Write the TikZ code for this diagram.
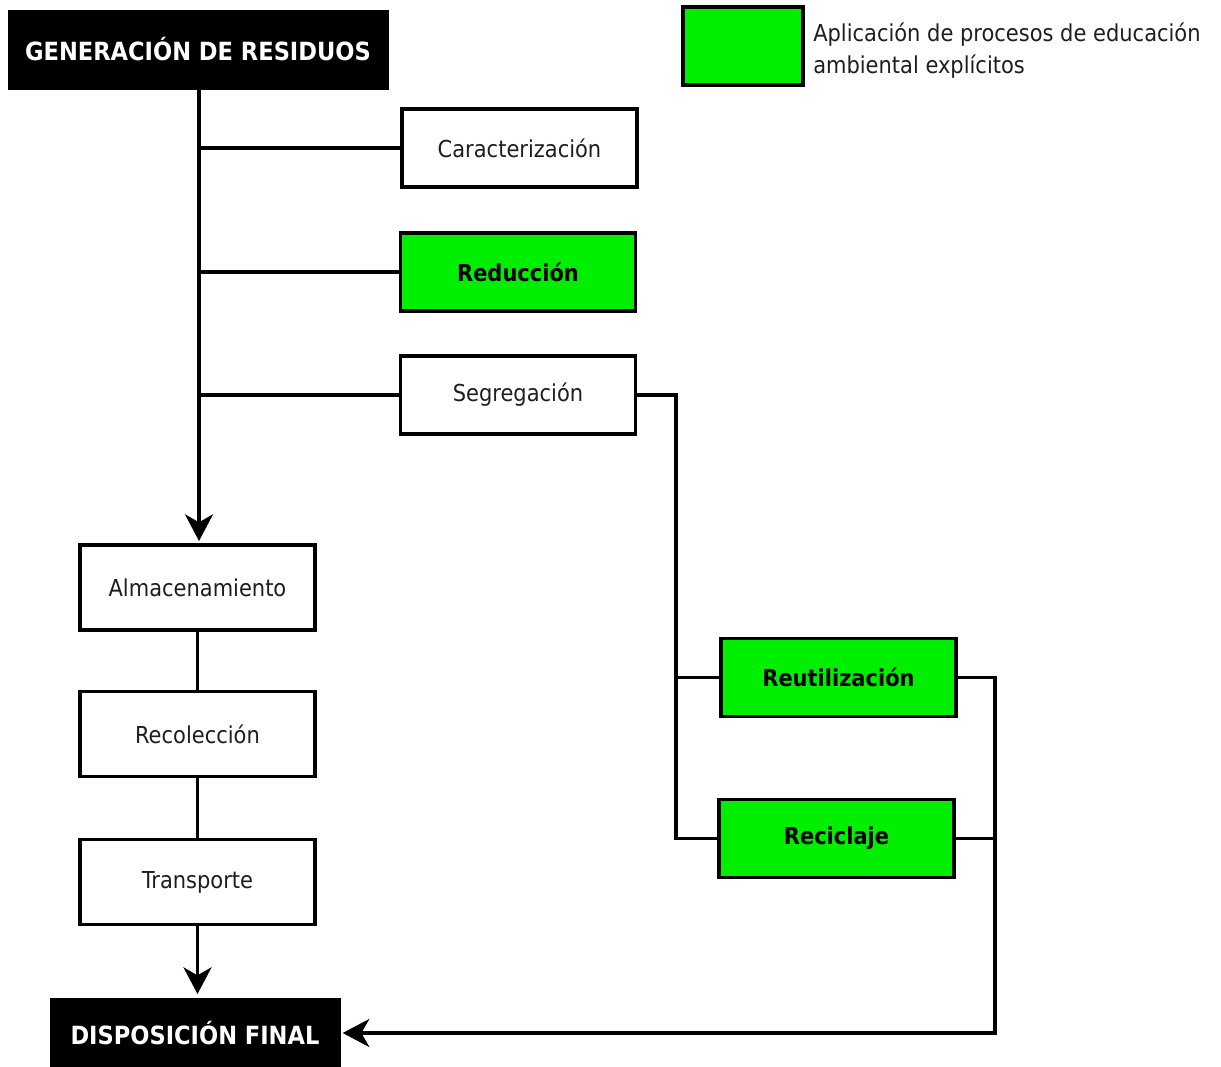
\documentclass[tikz,border=0pt]{standalone}
\usepackage{fontspec}
\setmainfont{DejaVu Sans Condensed}
\usetikzlibrary{arrows.meta}
\definecolor{vgreen}{RGB}{0,238,0}
\definecolor{txt}{RGB}{30,30,30}
\tikzset{
  conn/.style={line width=2.5pt, draw=black, line join=miter},
  arr/.style={conn, -{Stealth[length=20pt,width=21pt,inset=6pt]}},
  box/.style={draw=black, line width=2.5pt, fill=white, outer sep=0pt, inner sep=0pt,
    minimum width=176.25pt, minimum height=58.5pt, font=\fontsize{17.5pt}{20pt}\selectfont, text=txt},
  gbox/.style={box, fill=vgreen, text=black, font=\fontsize{17.5pt}{20pt}\selectfont\bfseries},
  lbox/.style={box, minimum height=63.75pt},
  tbox/.style={draw=black, fill=black, outer sep=0pt, inner sep=0pt, text=white,
    font=\fontsize{18.8pt}{20pt}\selectfont\bfseries},
}
\begin{document}
\begin{tikzpicture}[x=0.75pt,y=-0.75pt]
\useasboundingbox (0,0) rectangle (1221,1067);
% title boxes
\node[tbox, minimum width=285pt, minimum height=59.25pt] (gen) at (198,49.5) {GENERACIÓN DE RESIDUOS};
\node[tbox, minimum width=217.5pt, minimum height=52.5pt] (disp) at (195,1033) {DISPOSICIÓN FINAL};
% legend
\node[box, fill=vgreen, minimum width=90pt, minimum height=58.5pt] (leg) at (743,46) {};
\node[anchor=west, align=left, inner sep=0pt, text=txt, font=\fontsize{17.5pt}{24pt}\selectfont] (legt) at (813,51) {Aplicación de procesos de educación\\ambiental explícitos};
% upper boxes
\node[box] (car) at (519.5,148) {Caracterización};
\node[gbox] (red) at (518,272) {Reducción};
\node[box] (seg) at (518,395) {Segregación};
% lower left boxes
\node[lbox] (alm) at (197.5,587.5) {Almacenamiento};
\node[lbox] (rec) at (197.5,734) {Recolección};
\node[lbox] (tra) at (197.5,882) {Transporte};
% right boxes
\node[gbox] (reu) at (838.5,677.5) {Reutilización};
\node[gbox] (rcl) at (836.5,838.5) {Reciclaje};
% coordinates
\coordinate (trunk) at (199,92);
\coordinate (sx) at (676,0);
\coordinate (rx) at (995,0);
% main trunk
\draw[arr] (gen.south -| trunk) -- ([yshift=3pt]alm.north -| trunk);
\draw[conn] (car.west) -- (car.west -| trunk);
\draw[conn] (red.west) -- (red.west -| trunk);
\draw[conn] (seg.west) -- (seg.west -| trunk);
% chain
\draw[conn] (alm) -- (rec);
\draw[conn] (rec) -- (tra);
\draw[arr] (tra.south) -- ([yshift=3pt]disp.north -| tra.south);
% segregation branch
\draw[conn] (seg.east) -- (seg.east -| sx) -- (rcl.west -| sx) -- (rcl.west);
\draw[conn] (reu.west) -- (reu.west -| sx);
% right collector
\draw[arr] (reu.east) -- (reu.east -| rx) -- (disp.east -| rx) -- ([xshift=2pt]disp.east);
\draw[conn] (rcl.east) -- (rcl.east -| rx);
\end{tikzpicture}
\end{document}
